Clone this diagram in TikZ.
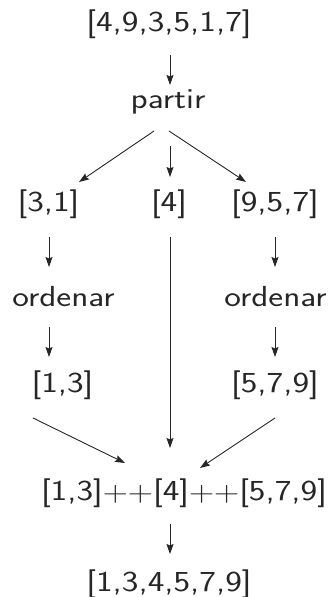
\documentclass[tikz,border=0pt]{standalone}
\usetikzlibrary{arrows.meta,calc}
\newcommand\txt[1]{\scalebox{1.22}[1]{#1}}
\newcommand\pl{\raisebox{-0.6pt}{\scalebox{1.15}{$+$}}}
\tikzset{
  lbl/.style={anchor=base, inner sep=0pt, font=\fontsize{29}{32}\selectfont\sffamily, text=black!85},
  arr/.style={draw=black!85, line width=0.9pt, -{Stealth[length=10pt,width=7pt,inset=1.5pt]}}
}
\begin{document}
\begin{tikzpicture}[x=1pt,y=-1pt]
\useasboundingbox (0,0) rectangle (327,597);
\node[lbl] (top) at (169,31.5) {\txt{[4,9,3,5,1,7]}};
\node[lbl] (partir) at (168,108) {\txt{partir}};
\node[lbl] (l1) at (48.5,211.5) {\txt{[3,1]}};
\node[lbl] (m1) at (169,211.5) {\txt{[4]}};
\node[lbl] (r1) at (275,211.5) {\txt{[9,5,7]}};
\node[lbl] (lo) at (63.5,306.5) {\txt{ordenar}};
\node[lbl] (ro) at (275.5,306.5) {\txt{ordenar}};
\node[lbl] (l2) at (62.5,392.5) {\txt{[1,3]}};
\node[lbl] (r2) at (275,392.5) {\txt{[5,7,9]}};
\node[lbl] (cat) at (184,500.5) {\txt{[1,3]\pl\pl[4]\pl\pl[5,7,9]}};
\node[lbl] (bot) at (169,591) {\txt{[1,3,4,5,7,9]}};
% arrows
\draw[arr] ($(top.base)+(1,23.5)$) -- ($(partir.base)+(2,-23)$);
\draw[arr] ($(partir.base)+(-14,23)$) -- ($(l1.base)+(30.5,-29.5)$);
\draw[arr] ($(partir.base)+(2,38)$) -- ($(m1.base)+(1,-34.5)$);
\draw[arr] ($(partir.base)+(1,23)$) -- ($(r1.base)+(-29,-29.5)$);
\draw[arr] ($(l1.base)+(0.5,25.5)$) -- ($(lo.base)+(-14.5,-39.5)$);
\draw[arr] ($(lo.base)+(-14.5,20.5)$) -- ($(l2.base)+(-13.5,-35.5)$);
\draw[arr] ($(r1.base)+(0,25.5)$) -- ($(ro.base)+(-0.5,-39.5)$);
\draw[arr] ($(ro.base)+(-0.5,20.5)$) -- ($(r2.base)+(0,-35.5)$);
\draw[arr] ($(m1.base)+(1,25.5)$) -- ($(cat.base)+(-14,-52.5)$);
\draw[arr] ($(l2.base)+(-29.5,25.5)$) -- ($(cat.base)+(-59,-37.5)$);
\draw[arr] ($(r2.base)+(0,25.5)$) -- ($(cat.base)+(16,-32.5)$);
\draw[arr] ($(cat.base)+(-14,23.5)$) -- ($(bot.base)+(1,-37)$);
\end{tikzpicture}
\end{document}
